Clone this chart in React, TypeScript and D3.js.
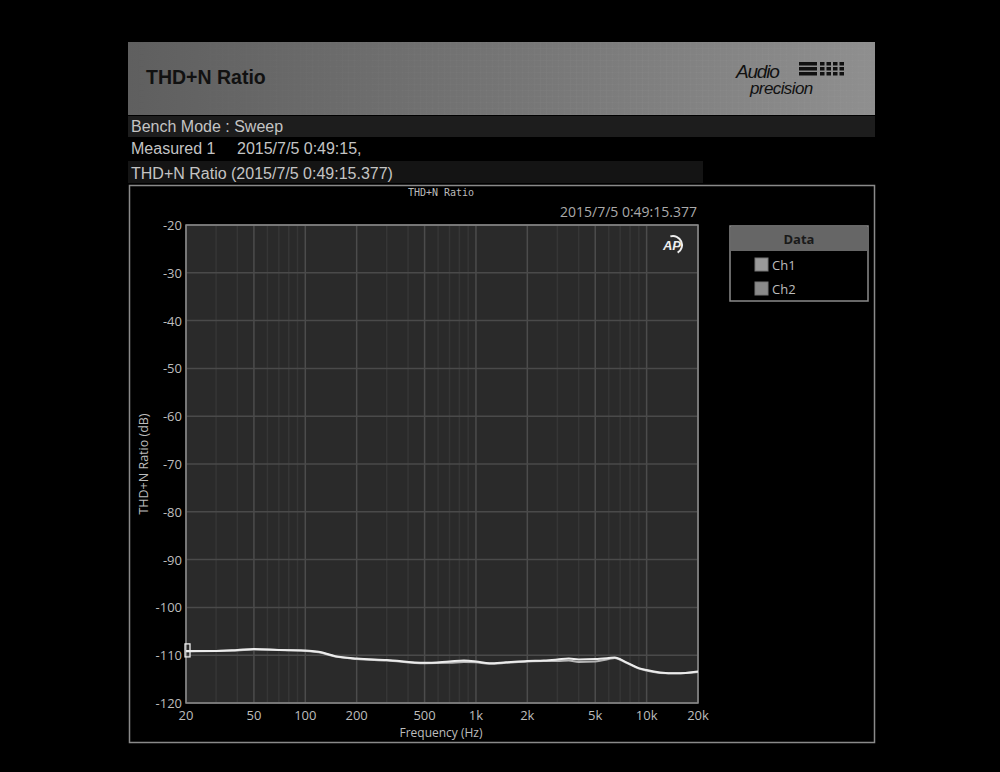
import React, { useEffect, useRef } from 'react';
import * as d3 from 'd3';

// Sweep frequencies (Hz) and measured THD+N ratio (dB)
const freqs = [20, 30, 40, 50, 70, 100, 120, 150, 200, 300, 500, 700, 850, 1000, 1200, 1500, 2000, 2500, 3000, 3500, 4000, 5000, 6000, 6500, 7500, 9000, 10000, 12000, 15000, 20000];
const ch1 = [-109.1, -109.1, -108.9, -108.7, -108.9, -109.0, -109.3, -110.2, -110.7, -111.0, -111.6, -111.3, -111.1, -111.3, -111.7, -111.5, -111.2, -111.1, -110.9, -110.7, -110.9, -110.8, -110.6, -110.5, -111.4, -112.7, -113.1, -113.6, -113.8, -113.4];
const ch2 = [-109.2, -109.1, -109.0, -108.8, -108.9, -109.1, -109.4, -110.3, -110.8, -111.1, -111.7, -111.6, -111.4, -111.5, -111.8, -111.6, -111.3, -111.2, -111.2, -111.1, -111.4, -111.3, -110.8, -110.6, -111.5, -112.8, -113.2, -113.7, -113.8, -113.5];

const xTickLabels = ['20', '50', '100', '200', '500', '1k', '2k', '5k', '10k', '20k'];
const xTickValues = [20, 50, 100, 200, 500, 1000, 2000, 5000, 10000, 20000];
const yTickValues = [-20, -30, -40, -50, -60, -70, -80, -90, -100, -110, -120];
const legendNames = ['Ch1', 'Ch2'];

const App: React.FC = () => {
  const svgRef = useRef<SVGSVGElement>(null);

  useEffect(() => {
    if (!svgRef.current) return;
    const svg = d3.select(svgRef.current);
    svg.selectAll('*').remove();

    const W = 1000, H = 772;
    const ui = "'Liberation Sans', Arial, sans-serif";
    const ax = "'Open Sans', 'DejaVu Sans', sans-serif";

    svg.append('rect').attr('width', W).attr('height', H).attr('fill', '#000');

    // header band gradient
    const defs = svg.append('defs');
    const grad = defs.append('linearGradient').attr('id', 'hdr').attr('x1', 0).attr('x2', 1);
    grad.append('stop').attr('offset', '0%').attr('stop-color', '#5f5f5f');
    grad.append('stop').attr('offset', '55%').attr('stop-color', '#777');
    grad.append('stop').attr('offset', '100%').attr('stop-color', '#8f8f8f');
    const pat = defs.append('pattern').attr('id', 'grid').attr('width', 6).attr('height', 6).attr('patternUnits', 'userSpaceOnUse');
    pat.append('path').attr('d', 'M6 0 L0 0 0 6').attr('fill', 'none').attr('stroke', '#9a9a9a').attr('stroke-width', 0.6).attr('opacity', 0.5);
    const fade = defs.append('linearGradient').attr('id', 'fade').attr('x1', 0).attr('x2', 1);
    fade.append('stop').attr('offset', '0%').attr('stop-color', '#fff').attr('stop-opacity', 0);
    fade.append('stop').attr('offset', '100%').attr('stop-color', '#fff').attr('stop-opacity', 1);
    const mask = defs.append('mask').attr('id', 'fmask');
    mask.append('rect').attr('x', 128).attr('y', 42).attr('width', 747).attr('height', 73).attr('fill', 'url(#fade)');

    svg.append('rect').attr('x', 128).attr('y', 42).attr('width', 747).attr('height', 73).attr('fill', 'url(#hdr)');
    svg.append('rect').attr('x', 128).attr('y', 42).attr('width', 747).attr('height', 73).attr('fill', 'url(#grid)').attr('mask', 'url(#fmask)');
    svg.append('text').attr('x', 146).attr('y', 84).text('THD+N Ratio')
      .attr('font-family', ui).attr('font-weight', 'bold').attr('font-size', 19.5).attr('fill', '#111');

    // Audio Precision logo
    const logo = svg.append('g').attr('font-family', ui).attr('font-style', 'italic').attr('fill', '#111');
    logo.append('text').attr('x', 736).attr('y', 78).text('Audio').attr('font-size', 19).attr('letter-spacing', -1.2);
    logo.append('text').attr('x', 750).attr('y', 94).text('precision').attr('font-size', 17).attr('letter-spacing', -0.6);
    [0, 1, 2].forEach(r => {
      logo.append('rect').attr('x', 799).attr('y', 62 + r * 5).attr('width', 18).attr('height', 3.5);
      [0, 1, 2, 3].forEach(c => logo.append('rect').attr('x', 820 + c * 6.5).attr('y', 62 + r * 5).attr('width', 4.5).attr('height', 3.5));
    });

    // info rows
    svg.append('rect').attr('x', 128).attr('y', 116).attr('width', 747).attr('height', 21).attr('fill', '#1d1d1d');
    svg.append('rect').attr('x', 128).attr('y', 161).attr('width', 575).attr('height', 22).attr('fill', '#141414');
    const info = svg.append('g').attr('font-family', ui).attr('font-size', 16).attr('fill', '#c4c4c4');
    info.append('text').attr('x', 131).attr('y', 132).text('Bench Mode : Sweep');
    info.append('text').attr('x', 131).attr('y', 154).text('Measured 1');
    info.append('text').attr('x', 237).attr('y', 154).text('2015/7/5 0:49:15,');
    info.append('text').attr('x', 131).attr('y', 179).text('THD+N Ratio (2015/7/5 0:49:15.377)');

    // chart frame
    svg.append('rect').attr('x', 129.5).attr('y', 185.5).attr('width', 745).attr('height', 557)
      .attr('fill', '#000').attr('stroke', '#8a8a8a').attr('stroke-width', 1.5);
    svg.append('text').attr('x', 441).attr('y', 196).attr('text-anchor', 'middle').text('THD+N Ratio')
      .attr('font-family', "'DejaVu Sans Mono', monospace").attr('font-size', 10).attr('fill', '#bbb');
    svg.append('text').attr('x', 697).attr('y', 217).attr('text-anchor', 'end').text('2015/7/5 0:49:15.377')
      .attr('font-family', ax).attr('font-size', 14).attr('fill', '#aaa');

    const x = d3.scaleLog().domain([20, 20000]).range([186, 698]);
    const y = d3.scaleLinear().domain([-120, -20]).range([703, 225]);

    svg.append('rect').attr('x', 186).attr('y', 225).attr('width', 512).attr('height', 478).attr('fill', '#2a2a2a');

    const grid = svg.append('g');
    x.ticks().filter(t => !xTickValues.includes(t)).forEach(t => {
      grid.append('line').attr('x1', x(t)).attr('x2', x(t)).attr('y1', 225).attr('y2', 703).attr('stroke', '#363636').attr('stroke-width', 1.5);
    });
    xTickValues.forEach(t => {
      grid.append('line').attr('x1', x(t)).attr('x2', x(t)).attr('y1', 225).attr('y2', 703).attr('stroke', '#4c4c4c').attr('stroke-width', 1.5);
    });
    yTickValues.forEach(t => {
      grid.append('line').attr('x1', 186).attr('x2', 698).attr('y1', y(t)).attr('y2', y(t)).attr('stroke', '#4a4a4a').attr('stroke-width', 1.5);
    });
    svg.append('rect').attr('x', 186).attr('y', 225).attr('width', 512).attr('height', 478)
      .attr('fill', 'none').attr('stroke', '#8a8a8a').attr('stroke-width', 1.5);

    // tick labels
    const tl = svg.append('g').attr('font-family', ax).attr('font-size', 13).attr('fill', '#bdbdbd');
    yTickValues.forEach(t => {
      tl.append('text').attr('x', 182).attr('y', y(t) + 5).attr('text-anchor', 'end').text(String(t));
    });
    xTickValues.forEach((t, i) => {
      tl.append('text').attr('x', x(t)).attr('y', 720).attr('text-anchor', 'middle').text(xTickLabels[i]);
    });
    tl.append('text').attr('x', 441).attr('y', 737).attr('text-anchor', 'middle').attr('font-size', 12).text('Frequency (Hz)');
    tl.append('text').attr('transform', `translate(148,464) rotate(-90)`).attr('text-anchor', 'middle').attr('font-size', 12.5).text('THD+N Ratio (dB)');

    // AP watermark
    const ap = svg.append('g').attr('transform', 'translate(673,245)');
    ap.append('path').attr('d', d3.arc()({ innerRadius: 8, outerRadius: 10, startAngle: -0.3, endAngle: 2.6 } as any) as string).attr('fill', '#eee');
    ap.append('text').attr('x', -1).attr('y', 5).attr('text-anchor', 'middle').text('AP')
      .attr('font-family', ui).attr('font-weight', 'bold').attr('font-style', 'italic').attr('font-size', 13).attr('fill', '#eee');

    // data lines
    const line = d3.line<number>().x((_, i) => x(freqs[i])).y(d => y(d)).curve(d3.curveMonotoneX);
    svg.append('path').attr('d', line(ch2) as string).attr('fill', 'none').attr('stroke', '#b5b5b5').attr('stroke-width', 2);
    svg.append('path').attr('d', line(ch1) as string).attr('fill', 'none').attr('stroke', '#ececec').attr('stroke-width', 2);

    // cursor marker at sweep start
    svg.append('rect').attr('x', 185).attr('y', y(ch1[0]) - 7).attr('width', 5).attr('height', 13)
      .attr('fill', 'none').attr('stroke', '#eee').attr('stroke-width', 1.3);

    // legend
    const lg = svg.append('g').attr('transform', 'translate(730,226)');
    lg.append('rect').attr('width', 138).attr('height', 75).attr('fill', '#000').attr('stroke', '#8a8a8a').attr('stroke-width', 1.5);
    lg.append('rect').attr('x', 1).attr('y', 1).attr('width', 136).attr('height', 24).attr('fill', '#666');
    lg.append('text').attr('x', 69).attr('y', 18).attr('text-anchor', 'middle').text('Data')
      .attr('font-family', ax).attr('font-weight', 'bold').attr('font-size', 13).attr('fill', '#1a1a1a');
    legendNames.forEach((n, i) => {
      lg.append('rect').attr('x', 25).attr('y', 32 + i * 24).attr('width', 13).attr('height', 13)
        .attr('fill', i === 0 ? '#9a9a9a' : '#8a8a8a').attr('stroke', '#777');
      lg.append('text').attr('x', 42).attr('y', 44 + i * 24).text(n)
        .attr('font-family', ax).attr('font-size', 13).attr('fill', '#bdbdbd');
    });
  }, []);

  return <svg ref={svgRef} width={1000} height={772} style={{ position: 'absolute', left: 0, top: 0 }} />;
};

export default App;
